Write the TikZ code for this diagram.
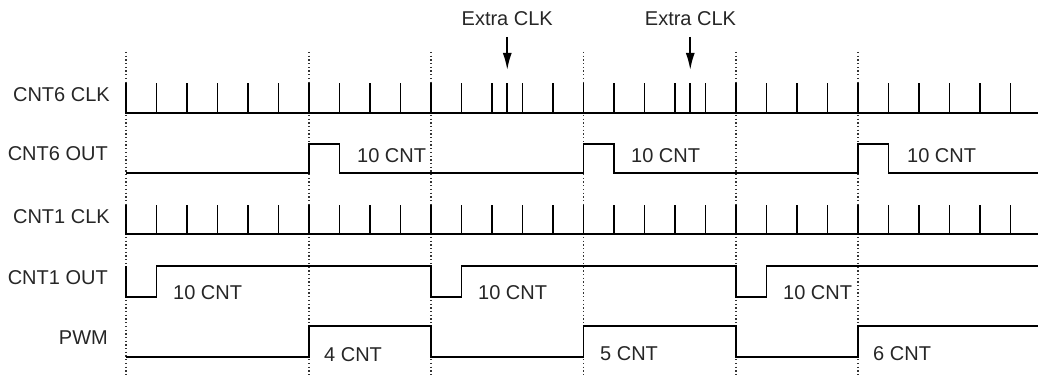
\documentclass[tikz,border=0pt]{standalone}
\usepackage{fontspec}
\setmainfont{Liberation Sans}
\usetikzlibrary{arrows.meta}
\begin{document}
\begin{tikzpicture}[x=1pt,y=-1pt,
  sig/.style={line width=1.8pt, line join=miter, black},
  guide/.style={line width=1.3pt, dash pattern=on 1.3pt off 2.4pt, black!80},
  lbl/.style={font=\fontsize{20}{21}\selectfont, text=black!85, inner sep=0pt},
  marker/.style={line width=1.8pt, black, -{Latex[length=17pt,width=9pt]}}
  ]
\useasboundingbox (0,0) rectangle (1038,382);
% guide lines
\foreach \k in {0,6,10,15,20,24} {
  \draw[guide] ({126+30.5*\k},52) -- ({126+30.5*\k},376);
}
% signal names
\node[lbl, anchor=east] (n6clk) at (110,94.5) {CNT6 CLK};
\node[lbl, anchor=east] (n6out) at (108,154) {CNT6 OUT};
\node[lbl, anchor=east] (n1clk) at (110,217) {CNT1 CLK};
\node[lbl, anchor=east] (n1out) at (108,278) {CNT1 OUT};
\node[lbl, anchor=east] (npwm) at (108,338) {PWM};
% CNT6 CLK
\draw[sig] (126,83) -- (126,113.3) -- (1038,113.3);
\foreach \k in {1,...,29} {
  \draw[sig] ({126+30.5*\k},113.3) -- ++(0,-30.3);
}
\draw[sig] (507.25,113.3) -- ++(0,-30.3);
\draw[sig] (690.25,113.3) -- ++(0,-30.3);
% Extra CLK markers
\node[lbl] (ex1) at (507.25,18.3) {Extra CLK};
\node[lbl] (ex2) at (690.5,18.3) {Extra CLK};
\coordinate (ex1a) at (507.25,37);
\coordinate (ex1b) at (507.25,70);
\coordinate (ex2a) at (690.25,37);
\coordinate (ex2b) at (690.25,70);
\draw[marker] (ex1a) -- (ex1b);
\draw[marker] (ex2a) -- (ex2b);
% CNT6 OUT
\draw[sig] (126,173.3) -- (309,173.3) -- (309,144) -- (339.5,144) -- (339.5,173.3)
  -- (583.5,173.3) -- (583.5,144) -- (614,144) -- (614,173.3)
  -- (858,173.3) -- (858,144) -- (888.5,144) -- (888.5,173.3) -- (1038,173.3);
\node[lbl, anchor=west] (c6a) at (357,156) {10 CNT};
\node[lbl, anchor=west] (c6b) at (631,156) {10 CNT};
\node[lbl, anchor=west] (c6c) at (907,156) {10 CNT};
% CNT1 CLK
\draw[sig] (126,205) -- (126,234) -- (1038,234);
\foreach \k in {1,...,29} {
  \draw[sig] ({126+30.5*\k},234) -- ++(0,-29);
}
% CNT1 OUT
\draw[sig] (126,266) -- (126,296.7) -- (156.5,296.7) -- (156.5,266)
  -- (431,266) -- (431,296.7) -- (461.5,296.7) -- (461.5,266)
  -- (736,266) -- (736,296.7) -- (766.5,296.7) -- (766.5,266) -- (1038,266);
\node[lbl, anchor=west] (c1a) at (173,293) {10 CNT};
\node[lbl, anchor=west] (c1b) at (478,293) {10 CNT};
\node[lbl, anchor=west] (c1c) at (783,293) {10 CNT};
% PWM
\draw[sig] (126,356.7) -- (309,356.7) -- (309,326) -- (431,326) -- (431,356.7)
  -- (583.5,356.7) -- (583.5,326) -- (736,326) -- (736,356.7)
  -- (858,356.7) -- (858,326) -- (1038,326);
\node[lbl, anchor=west] (p4) at (324,355) {4 CNT};
\node[lbl, anchor=west] (p5) at (600,354) {5 CNT};
\node[lbl, anchor=west] (p6) at (873,354) {6 CNT};
\end{tikzpicture}
\end{document}
